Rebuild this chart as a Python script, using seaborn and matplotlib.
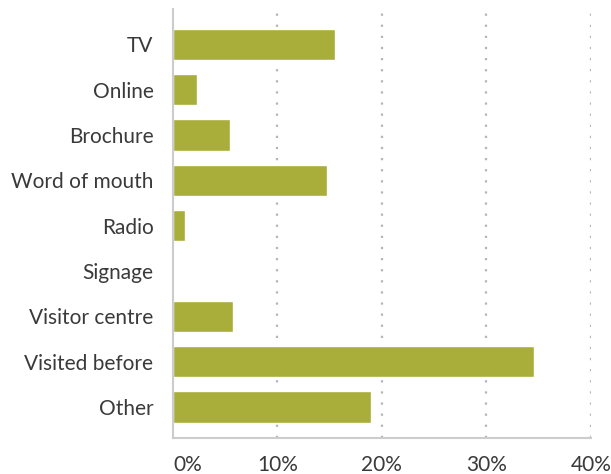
import numpy as np
import pandas as pd
import seaborn as sns
import matplotlib
matplotlib.use('Agg')
import matplotlib.pyplot as plt
from matplotlib.ticker import PercentFormatter

# data
channels = ['TV', 'Online', 'Brochure', 'Word of mouth', 'Radio', 'Signage',
            'Visitor centre', 'Visited before', 'Other']
share = [15.5, 2.3, 5.5, 14.7, 1.15, 0.0, 5.75, 34.6, 19.0]
ticks = [0, 10, 20, 30, 40]

sns.set_style('white')
plt.rcParams['font.family'] = ['Lato', 'DejaVu Sans']

df = pd.DataFrame({'channel': channels, 'share': share})

fig = plt.figure(figsize=(6.11, 4.74), dpi=100)
ax = fig.add_axes([0.283, 0.076, 0.684, 0.905])

sns.barplot(data=df, x='share', y='channel', color='#A9AD3A', saturation=1,
            width=0.69, ax=ax, zorder=3)

ax.set_xlim(0, 40)
ax.set_ylim(8.68, -0.78)
ax.set_xticks(ticks)
ax.xaxis.set_major_formatter(PercentFormatter(decimals=0))
ax.set_xlabel('')
ax.set_ylabel('')

for x in ticks[1:]:
    ax.axvline(x, color='#b5b5b5', linestyle=(0, (1, 4)), linewidth=1.6, zorder=1)

for s in ['top', 'right']:
    ax.spines[s].set_visible(False)
for s in ['left', 'bottom']:
    ax.spines[s].set_color('#cccccc')
    ax.spines[s].set_linewidth(1.5)
ax.spines['left'].set_zorder(4)

ax.tick_params(axis='both', length=0, labelsize=15, labelcolor='#3a3a3a')
ax.tick_params(axis='x', pad=12)
ax.tick_params(axis='y', pad=14)
lbl0 = ax.get_xticklabels()[0]
lbl0.set_ha('left')

fig.savefig('out.png', dpi=100)
